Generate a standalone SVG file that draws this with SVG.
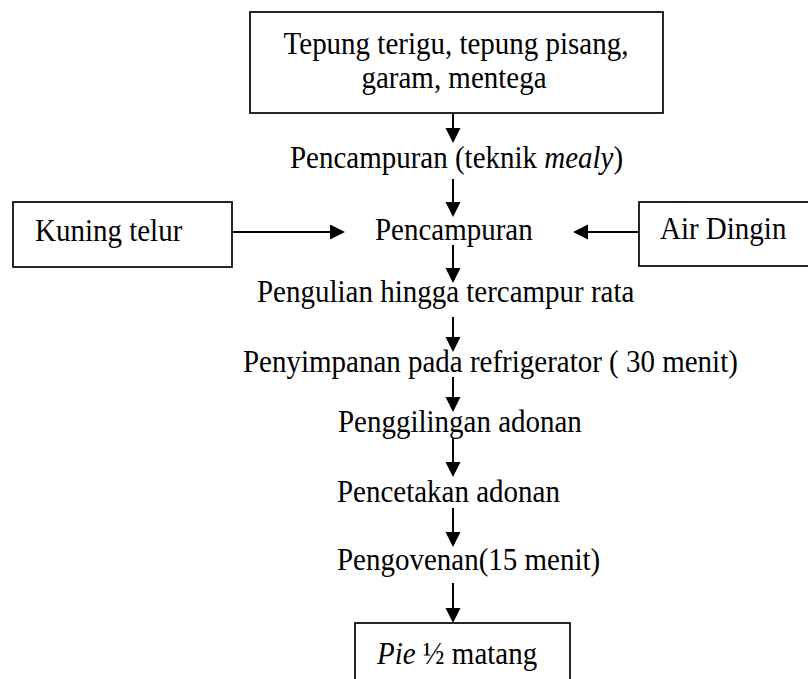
<svg xmlns="http://www.w3.org/2000/svg" width="808" height="679" viewBox="0 0 808 679">
  <style>
    .box { fill: #ffffff; stroke: #000000; stroke-width: 1.7; }
    .lbl { font-family: 'Liberation Serif', 'Times New Roman', Times, serif; font-size: 29px; fill: #000000; }
    .it { font-style: italic; }
    .edge { stroke: #000000; stroke-width: 2; fill: none; marker-end: url(#head); }
  </style>
  <defs>
    <marker id="head" markerUnits="userSpaceOnUse" markerWidth="16" markerHeight="16" refX="12" refY="7.5" orient="auto">
      <path d="M0,0 L15,7.5 L0,15 z" fill="#000000"/>
    </marker>
  </defs>
  <rect width="808" height="679" fill="#ffffff"/>

  <!-- connectors -->
  <g id="connectors">
    <line class="edge" x1="453" y1="113" x2="453" y2="140"/>
    <line class="edge" x1="453" y1="179" x2="453" y2="214"/>
    <line class="edge" x1="232" y1="232" x2="342" y2="232"/>
    <line class="edge" x1="639" y1="232" x2="576" y2="232"/>
    <line class="edge" x1="453" y1="245" x2="453" y2="280"/>
    <line class="edge" x1="453" y1="317" x2="453" y2="349"/>
    <line class="edge" x1="453" y1="377" x2="453" y2="409"/>
    <line class="edge" x1="453" y1="438" x2="453" y2="474"/>
    <line class="edge" x1="453" y1="508" x2="453" y2="544"/>
    <line class="edge" x1="453" y1="583" x2="453" y2="620"/>
  </g>

  <!-- labels are slightly stretched vertically: translate to baseline, then scale -->
  <g id="bahan">
    <rect class="box" x="250" y="12" width="413" height="101"/>
    <text class="lbl" transform="translate(456 54) scale(1 1.12)" text-anchor="middle">Tepung terigu, tepung pisang,</text>
    <text class="lbl" transform="translate(454 88) scale(1 1.12)" text-anchor="middle">garam, mentega</text>
  </g>

  <g id="mealy">
    <text class="lbl" transform="translate(290 168) scale(1 1.12)">Pencampuran (teknik <tspan class="it">mealy</tspan>)</text>
  </g>

  <g id="kuning-telur">
    <rect class="box" x="13" y="202" width="219" height="65"/>
    <text class="lbl" transform="translate(35 241) scale(1 1.12)">Kuning telur</text>
  </g>

  <g id="pencampuran">
    <text class="lbl" transform="translate(375 240) scale(1 1.12)">Pencampuran</text>
  </g>

  <g id="air-dingin">
    <rect class="box" x="639" y="202" width="180" height="64"/>
    <text class="lbl" transform="translate(660 239) scale(1 1.12)">Air Dingin</text>
  </g>

  <g id="pengulian">
    <text class="lbl" transform="translate(257 302) scale(1 1.12)">Pengulian hingga tercampur rata</text>
  </g>

  <g id="penyimpanan">
    <text class="lbl" transform="translate(243 372) scale(1 1.12)">Penyimpanan pada refrigerator ( 30 menit)</text>
  </g>

  <g id="penggilingan">
    <text class="lbl" transform="translate(338 432) scale(1 1.12)">Penggilingan adonan</text>
  </g>

  <g id="pencetakan">
    <text class="lbl" transform="translate(337 502) scale(1 1.12)">Pencetakan adonan</text>
  </g>

  <g id="pengovenan">
    <text class="lbl" transform="translate(337 570) scale(1 1.12)">Pengovenan(15 menit)</text>
  </g>

  <g id="pie">
    <rect class="box" x="355" y="623" width="215" height="70"/>
    <text class="lbl" transform="translate(377 664) scale(1 1.12)"><tspan class="it">Pie</tspan> ½ matang</text>
  </g>
</svg>
